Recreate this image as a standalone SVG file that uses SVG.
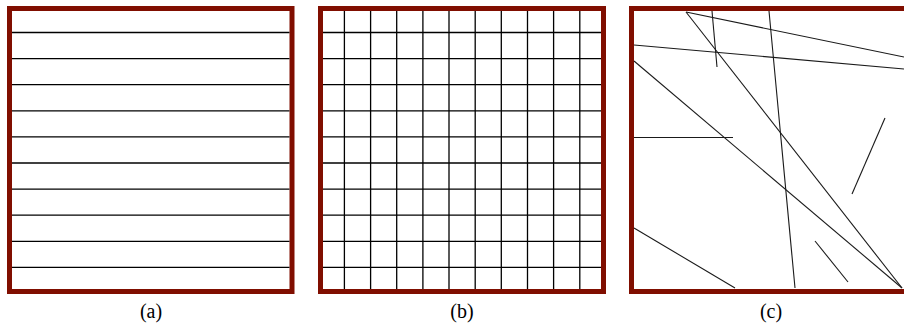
<svg xmlns="http://www.w3.org/2000/svg" width="904" height="327" viewBox="0 0 904 327">
<style>
.frame{fill:#fff;stroke:#800e00;stroke-width:5}
.g{stroke:#000;stroke-width:1.3;fill:none}
.r{stroke:#1a1a1a;stroke-width:1.1;fill:none}
.lbl{font-family:"Liberation Serif","DejaVu Serif",serif;font-size:20px;fill:#000;text-anchor:middle}
</style>
<rect width="904" height="327" fill="#fff"/>
<g id="panel-a">
<rect class="frame" x="9.5" y="8.5" width="282.5" height="283"/>
<g class="g">
<line x1="12" y1="32.5" x2="289.5" y2="32.5"/>
<line x1="12" y1="58.6" x2="289.5" y2="58.6"/>
<line x1="12" y1="84.7" x2="289.5" y2="84.7"/>
<line x1="12" y1="110.8" x2="289.5" y2="110.8"/>
<line x1="12" y1="136.9" x2="289.5" y2="136.9"/>
<line x1="12" y1="163" x2="289.5" y2="163"/>
<line x1="12" y1="189.1" x2="289.5" y2="189.1"/>
<line x1="12" y1="215.2" x2="289.5" y2="215.2"/>
<line x1="12" y1="241.3" x2="289.5" y2="241.3"/>
<line x1="12" y1="267.4" x2="289.5" y2="267.4"/>
</g>
<text class="lbl" x="151" y="318">(a)</text>
</g>
<g id="panel-b">
<rect class="frame" x="320.5" y="8.5" width="283" height="283"/>
<g class="g">
<line x1="323" y1="32.5" x2="601" y2="32.5"/>
<line x1="323" y1="58.6" x2="601" y2="58.6"/>
<line x1="323" y1="84.7" x2="601" y2="84.7"/>
<line x1="323" y1="110.8" x2="601" y2="110.8"/>
<line x1="323" y1="136.9" x2="601" y2="136.9"/>
<line x1="323" y1="163" x2="601" y2="163"/>
<line x1="323" y1="189.1" x2="601" y2="189.1"/>
<line x1="323" y1="215.2" x2="601" y2="215.2"/>
<line x1="323" y1="241.3" x2="601" y2="241.3"/>
<line x1="323" y1="267.4" x2="601" y2="267.4"/>
<line x1="344.4" y1="11" x2="344.4" y2="289"/>
<line x1="370.6" y1="11" x2="370.6" y2="289"/>
<line x1="396.7" y1="11" x2="396.7" y2="289"/>
<line x1="422.9" y1="11" x2="422.9" y2="289"/>
<line x1="449" y1="11" x2="449" y2="289"/>
<line x1="475.2" y1="11" x2="475.2" y2="289"/>
<line x1="501.3" y1="11" x2="501.3" y2="289"/>
<line x1="527.5" y1="11" x2="527.5" y2="289"/>
<line x1="553.6" y1="11" x2="553.6" y2="289"/>
<line x1="579.8" y1="11" x2="579.8" y2="289"/>
</g>
<text class="lbl" x="462" y="318">(b)</text>
</g>
<g id="panel-c">
<rect class="frame" x="631.5" y="8.5" width="283" height="283"/>
<g class="r">
<line x1="686" y1="12" x2="904" y2="57"/>
<line x1="686" y1="12" x2="902" y2="288"/>
<line x1="712" y1="11" x2="717" y2="67"/>
<line x1="769" y1="11" x2="795" y2="288"/>
<line x1="634" y1="45" x2="904" y2="69"/>
<line x1="634" y1="61" x2="902" y2="288"/>
<line x1="634" y1="137.5" x2="733" y2="137.5"/>
<line x1="885" y1="118" x2="852" y2="194"/>
<line x1="815" y1="241" x2="848" y2="282"/>
<line x1="634" y1="228" x2="735" y2="288"/>
</g>
<text class="lbl" x="771" y="318">(c)</text>
</g>
</svg>
